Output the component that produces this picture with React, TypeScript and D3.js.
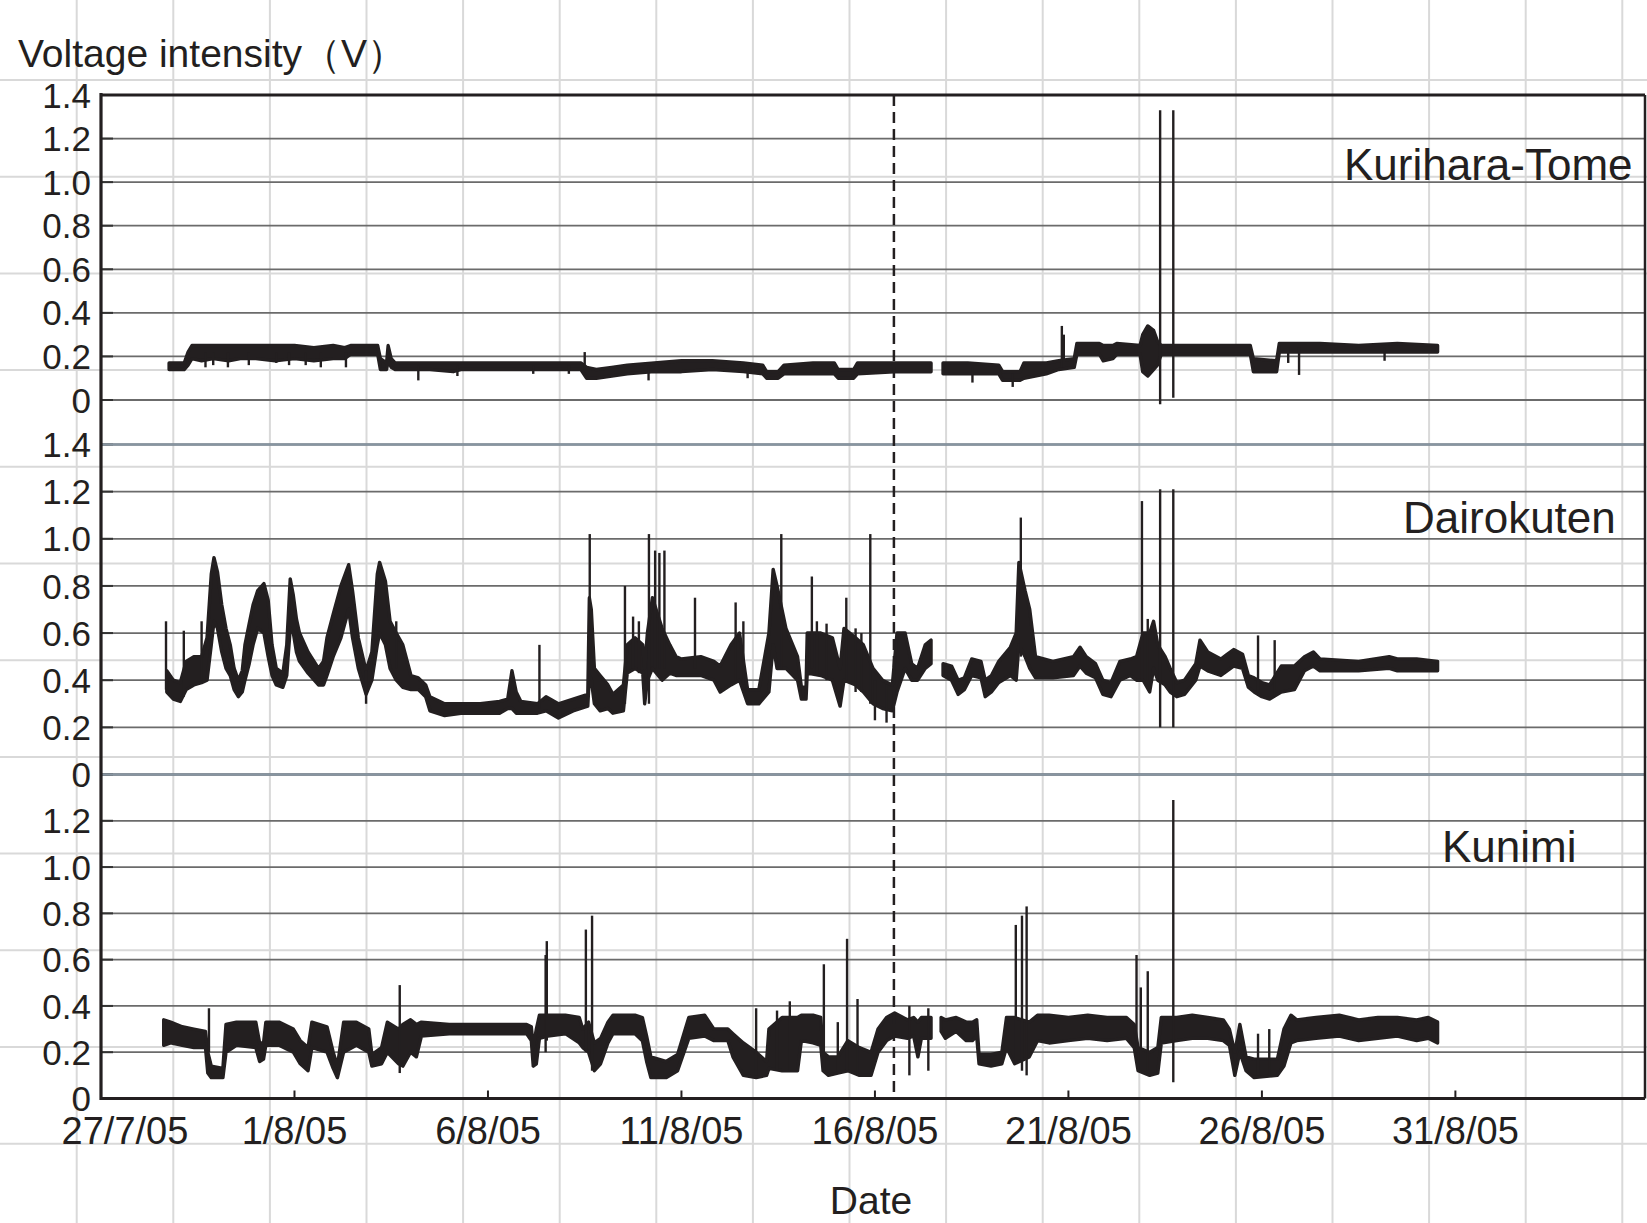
import React from "react";
import * as d3 from "d3";

type Row = [number, number, number]; // [days after 27/7/05 00:00, low V, high V]

const START = new Date(2005, 6, 27);
const DAY = 864e5;

// trace envelope (NaN row = data gap)
const kuriharaBand: Row[] = [
  [1.76, 0.14, 0.17], [2.15, 0.14, 0.17], [2.25, 0.16, 0.22], [2.35, 0.19, 0.25], [2.6, 0.18, 0.25],
  [2.9, 0.19, 0.25], [3.3, 0.18, 0.25], [3.6, 0.19, 0.25], [4.0, 0.19, 0.25], [4.5, 0.18, 0.25],
  [5.0, 0.19, 0.25], [5.5, 0.18, 0.24], [6.0, 0.19, 0.25], [6.3, 0.19, 0.24], [6.45, 0.21, 0.25],
  [7.15, 0.21, 0.25], [7.22, 0.14, 0.19], [7.38, 0.14, 0.17], [7.42, 0.18, 0.25], [7.5, 0.15, 0.19],
  [7.6, 0.14, 0.17], [8.5, 0.14, 0.17], [9.1, 0.13, 0.17], [9.3, 0.14, 0.17], [10.5, 0.14, 0.17],
  [11.5, 0.14, 0.17], [12.4, 0.14, 0.17], [12.55, 0.1, 0.15], [12.8, 0.1, 0.14], [13.2, 0.11, 0.15],
  [13.6, 0.12, 0.16], [14.3, 0.13, 0.17], [15.0, 0.13, 0.18], [15.8, 0.14, 0.18], [16.6, 0.13, 0.17],
  [17.1, 0.12, 0.16], [17.2, 0.1, 0.13], [17.5, 0.1, 0.13], [17.65, 0.12, 0.16], [18.4, 0.12, 0.17],
  [18.95, 0.12, 0.17], [19.05, 0.1, 0.14], [19.45, 0.1, 0.14], [19.55, 0.12, 0.17], [20.5, 0.13, 0.17],
  [21.45, 0.13, 0.17], [21.6, NaN, NaN],
  [21.76, 0.12, 0.17], [22.4, 0.12, 0.17], [23.2, 0.12, 0.16], [23.3, 0.09, 0.13], [23.75, 0.09, 0.13],
  [23.85, 0.1, 0.17], [24.43, 0.12, 0.17], [24.75, 0.14, 0.18], [25.15, 0.15, 0.19], [25.22, 0.21, 0.26],
  [25.8, 0.21, 0.26], [25.9, 0.18, 0.25], [26.15, 0.19, 0.25], [26.25, 0.21, 0.26], [26.85, 0.21, 0.25],
  [26.92, 0.13, 0.3], [27.05, 0.11, 0.34], [27.2, 0.14, 0.32], [27.3, 0.16, 0.27], [27.4, 0.21, 0.25],
  [28.5, 0.21, 0.25], [29.7, 0.21, 0.25], [29.78, 0.13, 0.19], [30.38, 0.13, 0.18], [30.45, 0.22, 0.26],
  [31.5, 0.22, 0.26], [32.5, 0.22, 0.25], [33.5, 0.22, 0.26], [34.54, 0.22, 0.25],
];
const kuriharaSpikes: Row[] = [
  [2.7, 0.15, 0.22], [2.9, 0.16, 0.22], [3.28, 0.15, 0.22], [3.82, 0.16, 0.22], [4.53, 0.17, 0.22],
  [4.86, 0.16, 0.22], [5.29, 0.16, 0.22], [5.68, 0.15, 0.22], [6.33, 0.15, 0.22], [8.2, 0.09, 0.16],
  [9.21, 0.11, 0.16], [11.17, 0.12, 0.16], [12.09, 0.12, 0.16], [12.5, 0.14, 0.22], [14.15, 0.09, 0.15],
  [16.71, 0.1, 0.16], [22.52, 0.08, 0.15], [23.56, 0.06, 0.12], [24.83, 0.15, 0.34], [24.88, 0.15, 0.3],
  [27.37, -0.02, 1.33], [27.71, 0.01, 1.33], [30.68, 0.17, 0.24], [30.96, 0.115, 0.24], [33.17, 0.18, 0.24],
];

const dairokutenBand: Row[] = [
  [1.7, 0.35, 0.44], [1.87, 0.32, 0.4], [2.05, 0.31, 0.39], [2.2, 0.36, 0.48], [2.4, 0.38, 0.5],
  [2.6, 0.39, 0.5], [2.74, 0.4, 0.58], [2.85, 0.55, 0.85], [2.92, 0.65, 0.92], [3.01, 0.62, 0.86],
  [3.12, 0.52, 0.72], [3.23, 0.45, 0.62], [3.34, 0.42, 0.55], [3.44, 0.36, 0.45], [3.55, 0.33, 0.4],
  [3.65, 0.35, 0.44], [3.72, 0.4, 0.55], [3.83, 0.47, 0.64], [3.93, 0.55, 0.72], [4.05, 0.62, 0.78],
  [4.21, 0.6, 0.81], [4.32, 0.5, 0.74], [4.42, 0.42, 0.55], [4.53, 0.38, 0.45], [4.7, 0.37, 0.43],
  [4.8, 0.42, 0.55], [4.89, 0.62, 0.83], [4.97, 0.6, 0.76], [5.05, 0.52, 0.66], [5.13, 0.48, 0.6],
  [5.35, 0.43, 0.52], [5.62, 0.38, 0.45], [5.75, 0.38, 0.48], [5.84, 0.42, 0.58], [6.0, 0.5, 0.68],
  [6.2, 0.58, 0.8], [6.4, 0.7, 0.89], [6.5, 0.58, 0.78], [6.65, 0.45, 0.58], [6.85, 0.34, 0.44],
  [7.0, 0.4, 0.52], [7.14, 0.55, 0.85], [7.2, 0.6, 0.9], [7.35, 0.55, 0.82], [7.47, 0.45, 0.65],
  [7.63, 0.4, 0.6], [7.8, 0.37, 0.55], [8.01, 0.36, 0.42], [8.2, 0.36, 0.41], [8.39, 0.33, 0.38],
  [8.5, 0.27, 0.33], [8.88, 0.25, 0.3], [9.3, 0.26, 0.3], [9.8, 0.26, 0.3], [10.3, 0.26, 0.31],
  [10.51, 0.28, 0.32], [10.62, 0.28, 0.44], [10.73, 0.26, 0.35], [10.85, 0.26, 0.31], [11.28, 0.26, 0.3],
  [11.5, 0.27, 0.33], [11.82, 0.24, 0.3], [12.2, 0.27, 0.32], [12.58, 0.29, 0.34], [12.62, 0.42, 0.75],
  [12.67, 0.4, 0.7], [12.75, 0.3, 0.45], [12.9, 0.27, 0.42], [13.1, 0.28, 0.38], [13.23, 0.26, 0.34],
  [13.5, 0.27, 0.38], [13.6, 0.43, 0.55], [13.8, 0.45, 0.58], [14.0, 0.43, 0.55], [14.05, 0.3, 0.45],
  [14.12, 0.4, 0.6], [14.25, 0.45, 0.75], [14.5, 0.4, 0.62], [14.7, 0.43, 0.55], [14.86, 0.42, 0.5],
  [15.0, 0.42, 0.49], [15.5, 0.42, 0.5], [15.84, 0.4, 0.48], [16.0, 0.35, 0.46], [16.28, 0.38, 0.55],
  [16.5, 0.4, 0.6], [16.71, 0.3, 0.36], [17.0, 0.3, 0.36], [17.26, 0.35, 0.6], [17.37, 0.55, 0.87],
  [17.47, 0.45, 0.8], [17.7, 0.45, 0.62], [18.0, 0.4, 0.5], [18.1, 0.32, 0.37], [18.22, 0.32, 0.37],
  [18.25, 0.43, 0.6], [18.6, 0.42, 0.6], [18.9, 0.4, 0.58], [19.1, 0.29, 0.45], [19.2, 0.4, 0.62],
  [19.5, 0.38, 0.58], [19.7, 0.35, 0.55], [19.95, 0.3, 0.45], [20.2, 0.28, 0.4], [20.45, 0.27, 0.38],
  [20.57, 0.35, 0.6], [20.78, 0.45, 0.6], [20.95, 0.4, 0.47], [21.1, 0.4, 0.45], [21.3, 0.45, 0.55],
  [21.45, 0.47, 0.57], [21.6, NaN, NaN],
  [21.76, 0.42, 0.47], [21.98, 0.4, 0.46], [22.15, 0.34, 0.4], [22.31, 0.36, 0.41], [22.5, 0.42, 0.49],
  [22.74, 0.41, 0.48], [22.85, 0.33, 0.4], [23.01, 0.35, 0.42], [23.2, 0.39, 0.48], [23.5, 0.42, 0.54],
  [23.65, 0.4, 0.6], [23.72, 0.55, 0.9], [23.88, 0.5, 0.78], [24.0, 0.45, 0.7], [24.15, 0.41, 0.5],
  [24.6, 0.41, 0.48], [25.13, 0.42, 0.5], [25.3, 0.46, 0.54], [25.46, 0.43, 0.5], [25.7, 0.41, 0.47],
  [25.89, 0.34, 0.4], [26.1, 0.33, 0.39], [26.33, 0.4, 0.48], [26.6, 0.42, 0.49], [26.76, 0.4, 0.5],
  [26.93, 0.4, 0.6], [27.1, 0.35, 0.6], [27.2, 0.45, 0.65], [27.31, 0.4, 0.55], [27.5, 0.38, 0.5],
  [27.63, 0.35, 0.45], [27.8, 0.33, 0.39], [28.0, 0.34, 0.4], [28.29, 0.4, 0.47], [28.4, 0.46, 0.57],
  [28.6, 0.44, 0.52], [28.94, 0.42, 0.49], [29.1, 0.44, 0.51], [29.27, 0.46, 0.53], [29.5, 0.45, 0.51],
  [29.65, 0.37, 0.42], [29.8, 0.35, 0.41], [30.0, 0.33, 0.39], [30.2, 0.32, 0.38], [30.5, 0.35, 0.46],
  [30.84, 0.36, 0.46], [31.1, 0.44, 0.5], [31.33, 0.46, 0.52], [31.5, 0.44, 0.49], [32.5, 0.44, 0.48],
  [33.29, 0.45, 0.5], [33.5, 0.44, 0.49], [34.0, 0.44, 0.49], [34.54, 0.44, 0.48],
];
const dairokutenSpikes: Row[] = [
  [1.68, 0.36, 0.65], [2.14, 0.33, 0.61], [2.6, 0.4, 0.65], [6.85, 0.3, 0.44], [7.63, 0.45, 0.65],
  [11.33, 0.28, 0.55], [12.63, 0.4, 1.02], [13.54, 0.3, 0.8], [13.75, 0.45, 0.67], [13.9, 0.43, 0.65],
  [14.16, 0.3, 1.02], [14.32, 0.45, 0.95], [14.43, 0.45, 0.94], [14.56, 0.45, 0.95], [15.35, 0.45, 0.75],
  [16.4, 0.4, 0.73], [16.6, 0.38, 0.65], [17.58, 0.45, 1.02], [18.37, 0.45, 0.84], [18.5, 0.42, 0.65],
  [18.75, 0.4, 0.64], [19.26, 0.4, 0.75], [19.5, 0.35, 0.62], [19.65, 0.35, 0.6], [19.88, 0.3, 1.02],
  [20.0, 0.23, 0.4], [20.3, 0.22, 0.38], [23.77, 0.5, 1.09], [26.9, 0.4, 1.16], [27.05, 0.4, 0.66],
  [27.37, 0.2, 1.21], [27.71, 0.2, 1.21], [29.9, 0.35, 0.59], [30.33, 0.33, 0.57],
];

const kunimiBand: Row[] = [
  [1.62, 0.23, 0.34], [1.8, 0.24, 0.33], [2.1, 0.23, 0.31], [2.4, 0.22, 0.3], [2.7, 0.22, 0.29],
  [2.76, 0.11, 0.2], [2.85, 0.09, 0.14], [3.15, 0.09, 0.13], [3.23, 0.2, 0.32], [3.5, 0.23, 0.33],
  [4.0, 0.22, 0.33], [4.1, 0.16, 0.24], [4.2, 0.17, 0.24], [4.26, 0.23, 0.33], [4.6, 0.23, 0.33],
  [4.97, 0.2, 0.3], [5.15, 0.15, 0.25], [5.35, 0.12, 0.22], [5.45, 0.22, 0.33], [5.84, 0.2, 0.31],
  [6.0, 0.13, 0.2], [6.11, 0.09, 0.14], [6.27, 0.2, 0.33], [6.6, 0.23, 0.33], [6.92, 0.2, 0.3],
  [7.0, 0.14, 0.19], [7.25, 0.15, 0.22], [7.4, 0.2, 0.33], [7.69, 0.15, 0.3], [7.8, 0.14, 0.32],
  [8.0, 0.2, 0.34], [8.15, 0.18, 0.32], [8.28, 0.27, 0.33], [9.0, 0.28, 0.32], [10.0, 0.28, 0.32],
  [11.0, 0.28, 0.32], [11.12, 0.25, 0.31], [11.17, 0.14, 0.22], [11.25, 0.15, 0.3], [11.33, 0.26, 0.36],
  [11.55, 0.27, 0.36], [12.0, 0.28, 0.36], [12.36, 0.24, 0.35], [12.45, 0.22, 0.3], [12.6, 0.2, 0.33],
  [12.75, 0.12, 0.24], [12.91, 0.15, 0.26], [13.1, 0.24, 0.33], [13.23, 0.28, 0.36], [13.8, 0.28, 0.36],
  [13.99, 0.25, 0.35], [14.1, 0.16, 0.27], [14.21, 0.09, 0.18], [14.6, 0.09, 0.16], [14.9, 0.12, 0.19],
  [15.19, 0.26, 0.35], [15.6, 0.27, 0.36], [15.84, 0.25, 0.3], [16.2, 0.25, 0.3], [16.33, 0.18, 0.28],
  [16.6, 0.1, 0.24], [16.93, 0.09, 0.2], [17.2, 0.1, 0.16], [17.26, 0.13, 0.3], [17.6, 0.12, 0.35],
  [18.0, 0.12, 0.35], [18.1, 0.25, 0.36], [18.4, 0.24, 0.36], [18.6, 0.23, 0.35], [18.66, 0.12, 0.2],
  [18.8, 0.1, 0.18], [19.04, 0.11, 0.18], [19.3, 0.12, 0.25], [19.6, 0.1, 0.22], [19.9, 0.1, 0.2],
  [20.08, 0.2, 0.3], [20.3, 0.25, 0.35], [20.51, 0.27, 0.37], [20.84, 0.26, 0.34], [21.0, 0.27, 0.35],
  [21.11, 0.18, 0.33], [21.2, 0.26, 0.35], [21.45, 0.26, 0.35], [21.6, NaN, NaN],
  [21.71, 0.29, 0.35], [21.82, 0.26, 0.34], [22.1, 0.29, 0.35], [22.36, 0.25, 0.33], [22.52, 0.25, 0.33],
  [22.63, 0.27, 0.34], [22.69, 0.15, 0.19], [23.0, 0.14, 0.19], [23.28, 0.15, 0.2], [23.4, 0.22, 0.35],
  [23.61, 0.15, 0.35], [23.99, 0.18, 0.33], [24.2, 0.25, 0.36], [24.5, 0.24, 0.36], [25.0, 0.25, 0.35],
  [25.5, 0.26, 0.36], [26.0, 0.25, 0.35], [26.5, 0.26, 0.35], [26.7, 0.22, 0.32], [26.8, 0.12, 0.22],
  [27.1, 0.1, 0.2], [27.31, 0.11, 0.22], [27.4, 0.24, 0.35], [27.8, 0.25, 0.35], [28.2, 0.26, 0.36],
  [28.6, 0.26, 0.35], [29.0, 0.25, 0.34], [29.16, 0.23, 0.3], [29.3, 0.1, 0.2], [29.43, 0.2, 0.32],
  [29.59, 0.12, 0.18], [29.8, 0.09, 0.17], [30.4, 0.1, 0.17], [30.57, 0.14, 0.3], [30.75, 0.24, 0.36],
  [30.9, 0.25, 0.34], [31.4, 0.26, 0.35], [32.0, 0.27, 0.36], [32.5, 0.25, 0.34], [33.0, 0.26, 0.35],
  [33.5, 0.27, 0.35], [34.0, 0.25, 0.34], [34.3, 0.26, 0.35], [34.54, 0.24, 0.33],
];
const kunimiSpikes: Row[] = [
  [2.79, 0.2, 0.39], [7.72, 0.11, 0.49], [11.49, 0.2, 0.62], [11.52, 0.25, 0.68], [12.53, 0.2, 0.73],
  [12.69, 0.12, 0.79], [16.93, 0.1, 0.39], [17.47, 0.12, 0.38], [17.8, 0.12, 0.42], [18.68, 0.12, 0.58],
  [19.04, 0.11, 0.33], [19.28, 0.12, 0.69], [19.55, 0.1, 0.43], [20.89, 0.1, 0.4], [21.38, 0.12, 0.39],
  [23.64, 0.15, 0.75], [23.8, 0.12, 0.79], [23.92, 0.1, 0.83], [26.76, 0.2, 0.62], [26.87, 0.12, 0.48],
  [27.05, 0.12, 0.55], [27.71, 0.07, 1.29], [29.9, 0.1, 0.28], [30.19, 0.1, 0.3],
];

const stationNames = ["Kurihara-Tome", "Dairokuten", "Kunimi"];
const voltTicks = [0, 0.2, 0.4, 0.6, 0.8, 1.0, 1.2, 1.4];
const quakeTime = new Date(2005, 7, 16, 11, 46);

const W = 1647;
const H = 1223;
const left = 101;
const right = 1645;
const top = 95;
const bottom = 1098.5;
const ink = "#231f20";
const font = "'Liberation Sans', Arial, Helvetica, sans-serif";

// vertical placement of the three stacked panels
const panels = [
  { band: kuriharaBand, spikes: kuriharaSpikes, y0: 400, y1: 95, maxLabel: 1.4, nameX: 1344, nameY: 180 },
  { band: dairokutenBand, spikes: dairokutenSpikes, y0: 774.5, y1: 444.5, maxLabel: 1.4, nameX: 1403, nameY: 533 },
  { band: kunimiBand, spikes: kunimiSpikes, y0: 1098.5, y1: 774.5, maxLabel: 1.2, nameX: 1442, nameY: 862 },
];

export default function App() {
  const x = d3.scaleTime().domain([START, new Date(+START + 39.9 * DAY)]).range([left, right]);
  const tx = (t: number) => x(new Date(+START + t * DAY));
  const dateTicks = d3.range(8).map((i) => d3.timeDay.offset(START, 5 * i));
  const fmt = d3.timeFormat("%-d/%-m/%y");
  const paperX = d3.range(76.7, W, 96.6);
  const paperY = d3.range(80, H, 96.7);
  const qx = x(quakeTime);

  return (
    <svg width={W} height={H} style={{ position: "absolute", left: 0, top: 0, background: "#fff" }} fontFamily={font}>
      <rect width={W} height={H} fill="#fff" />
      {/* faint paper grid */}
      <g stroke="#d9d9d9" strokeWidth={2}>
        {paperX.map((px) => <line key={"px" + px} x1={px} x2={px} y1={0} y2={H} />)}
        {paperY.map((py) => <line key={"py" + py} x1={0} x2={W} y1={py} y2={py} />)}
      </g>

      {panels.map((p, i) => {
        const y = d3.scaleLinear().domain([0, 1.4]).range([p.y0, p.y1]);
        const area = d3
          .area<Row>()
          .defined((d) => !isNaN(d[1]))
          .x((d) => tx(d[0]))
          .y0((d) => y(d[1]))
          .y1((d) => y(d[2]));
        return (
          <g key={i}>
            {voltTicks.map((v) => (
              <g key={v}>
                <line x1={left} x2={right} y1={y(v)} y2={y(v)} stroke="#6b6b6b" strokeWidth={1.8} />
                <line x1={left} x2={left + 12} y1={y(v)} y2={y(v)} stroke="#333" strokeWidth={2} />
              </g>
            ))}
            {voltTicks.filter((v) => v <= p.maxLabel + 1e-9).map((v) => (
              <text key={"l" + v} x={91} y={y(v)} dy="0.36em" textAnchor="end" fontSize={35} fill={ink}>
                {v === 0 ? "0" : v.toFixed(1)}
              </text>
            ))}
            <path d={area(p.band) || ""} fill={ink} stroke={ink} strokeWidth={3.4} strokeLinejoin="round" />
            {p.spikes.map((s, j) => (
              <line key={j} x1={tx(s[0])} x2={tx(s[0])} y1={y(s[1])} y2={y(s[2])} stroke={ink} strokeWidth={2.4} />
            ))}
            <text x={p.nameX} y={p.nameY} fontSize={44} fill={ink}>
              {stationNames[i]}
            </text>
          </g>
        );
      })}

      {/* panel separators of the middle panel */}
      <line x1={left} x2={right} y1={panels[1].y1} y2={panels[1].y1} stroke="#8795a1" strokeWidth={2.4} />
      <line x1={left} x2={right} y1={panels[1].y0} y2={panels[1].y0} stroke="#8795a1" strokeWidth={2.4} />

      {/* frame */}
      <line x1={left} x2={right} y1={top} y2={top} stroke={ink} strokeWidth={3} />
      <line x1={right} x2={right} y1={top} y2={bottom} stroke={ink} strokeWidth={2.5} />
      <line x1={left} x2={right} y1={bottom} y2={bottom} stroke={ink} strokeWidth={3} />
      <line x1={left} x2={left} y1={top - 2} y2={bottom + 1.5} stroke={ink} strokeWidth={3.2} />

      {/* earthquake marker */}
      <line x1={qx} x2={qx} y1={top} y2={bottom} stroke={ink} strokeWidth={2.5} strokeDasharray="11 6" />

      {/* date axis */}
      {dateTicks.map((d, i) => (
        <g key={+d}>
          <line x1={x(d)} x2={x(d)} y1={bottom} y2={bottom - 8} stroke={ink} strokeWidth={2} />
          <text x={x(d)} dx={i === 0 ? 24 : 0} y={1144} textAnchor="middle" fontSize={38} fill={ink}>
            {fmt(d)}
          </text>
        </g>
      ))}
      <text x={871} y={1214} textAnchor="middle" fontSize={39} fill={ink}>
        Date
      </text>
      <text x={18} y={67} fontSize={39} fill={ink}>
        Voltage intensity（V）
      </text>
    </svg>
  );
}
